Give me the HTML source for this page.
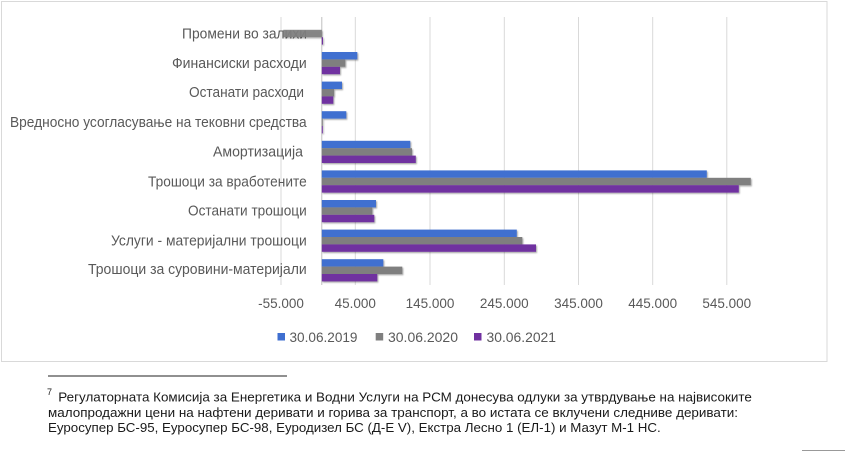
<!DOCTYPE html>
<html><head><meta charset="utf-8"><style>
html,body{margin:0;padding:0;background:#fff;}
svg{display:block;}
</style></head><body>
<svg width="845" height="452" viewBox="0 0 845 452" xmlns="http://www.w3.org/2000/svg" font-family="'Liberation Sans', 'Noto Sans CJK SC', sans-serif">
<defs>
<filter id="sh" x="-5%" y="-20%" width="110%" height="160%">
<feDropShadow dx="1" dy="1.2" stdDeviation="0.9" flood-color="#000" flood-opacity="0.35"/>
</filter>
</defs>
<rect x="0" y="0" width="845" height="452" fill="#fff"/>
<!-- chart border -->
<rect x="1.5" y="1.5" width="825.5" height="360" fill="#fff" stroke="#d9d9d9" stroke-width="1"/>
<!-- gridlines -->
<g stroke="#d9d9d9" stroke-width="1">
<line x1="281" y1="17" x2="281" y2="285"/>
<line x1="355.3" y1="17" x2="355.3" y2="285"/>
<line x1="430" y1="17" x2="430" y2="285"/>
<line x1="504.3" y1="17" x2="504.3" y2="285"/>
<line x1="578.5" y1="17" x2="578.5" y2="285"/>
<line x1="652.7" y1="17" x2="652.7" y2="285"/>
<line x1="726.8" y1="17" x2="726.8" y2="285"/>
</g>
<line x1="321.8" y1="17" x2="321.8" y2="285" stroke="#bfbfbf" stroke-width="1"/>
<!-- category labels -->
<g fill="#595959" font-size="14.5" text-anchor="start">
<text x="182" y="38.5" textLength="125" lengthAdjust="spacingAndGlyphs">Промени во залихи</text>
<text x="172" y="68" textLength="134.7" lengthAdjust="spacingAndGlyphs">Финансиски расходи</text>
<text x="189" y="97" textLength="115" lengthAdjust="spacingAndGlyphs">Останати расходи</text>
<text x="10" y="127" textLength="296.7" lengthAdjust="spacingAndGlyphs">Вредносно усогласување на тековни средства</text>
<text x="213" y="156.7" textLength="90" lengthAdjust="spacingAndGlyphs">Амортизација</text>
<text x="148" y="186.5" textLength="158.7" lengthAdjust="spacingAndGlyphs">Трошоци за вработените</text>
<text x="188" y="215.5" textLength="118.7" lengthAdjust="spacingAndGlyphs">Останати трошоци</text>
<text x="111" y="245.5" textLength="195.7" lengthAdjust="spacingAndGlyphs">Услуги - материјални трошоци</text>
<text x="88" y="274" textLength="218.7" lengthAdjust="spacingAndGlyphs">Трошоци за суровини-материјали</text>
</g>
<!-- bars -->
<g filter="url(#sh)">
<!-- Promeni c=33.5 -->
<rect x="283.3" y="29.8" width="38.5" height="7.4" fill="#7f7f7f" fill-opacity="0.92"/>
<rect x="321.8" y="37.2" width="1.2" height="7.4" fill="#7030a0"/>
<!-- Finansiski -->
<rect x="321.8" y="52" width="35.5" height="7.4" fill="#3f6fd0"/>
<rect x="321.8" y="59.4" width="23.5" height="7.4" fill="#7f7f7f"/>
<rect x="321.8" y="66.8" width="18.2" height="7.4" fill="#7030a0"/>
<!-- Ostanati rashodi -->
<rect x="321.8" y="81.6" width="20.2" height="7.4" fill="#3f6fd0"/>
<rect x="321.8" y="89" width="12.2" height="7.4" fill="#7f7f7f"/>
<rect x="321.8" y="96.4" width="11.5" height="7.4" fill="#7030a0"/>
<!-- Vrednosno -->
<rect x="321.8" y="111.2" width="24.5" height="7.4" fill="#3f6fd0"/>
<rect x="321.8" y="118.6" width="1" height="7.4" fill="#7f7f7f"/>
<rect x="321.8" y="126" width="1" height="7.4" fill="#7030a0"/>
<!-- Amortizacija -->
<rect x="321.8" y="140.8" width="88.5" height="7.4" fill="#3f6fd0"/>
<rect x="321.8" y="148.2" width="90.2" height="7.4" fill="#7f7f7f"/>
<rect x="321.8" y="155.6" width="94" height="7.4" fill="#7030a0"/>
<!-- Vraboteni -->
<rect x="321.8" y="170.4" width="385" height="7.4" fill="#3f6fd0"/>
<rect x="321.8" y="177.8" width="429" height="7.4" fill="#7f7f7f"/>
<rect x="321.8" y="185.2" width="417" height="7.4" fill="#7030a0"/>
<!-- Ostanati troshoci -->
<rect x="321.8" y="200" width="54.2" height="7.4" fill="#3f6fd0"/>
<rect x="321.8" y="207.4" width="50.5" height="7.4" fill="#7f7f7f"/>
<rect x="321.8" y="214.8" width="52.5" height="7.4" fill="#7030a0"/>
<!-- Uslugi -->
<rect x="321.8" y="229.6" width="195" height="7.4" fill="#3f6fd0"/>
<rect x="321.8" y="237" width="200.5" height="7.4" fill="#7f7f7f"/>
<rect x="321.8" y="244.4" width="214.2" height="7.4" fill="#7030a0"/>
<!-- Surovini -->
<rect x="321.8" y="259.2" width="61.5" height="7.4" fill="#3f6fd0"/>
<rect x="321.8" y="266.6" width="80.5" height="7.4" fill="#7f7f7f"/>
<rect x="321.8" y="274" width="55.5" height="7.4" fill="#7030a0"/>
</g>
<!-- axis tick labels -->
<g fill="#595959" font-size="13.5" text-anchor="middle">
<text x="281" y="308">-55.000</text>
<text x="355.3" y="308">45.000</text>
<text x="430" y="308">145.000</text>
<text x="504.3" y="308">245.000</text>
<text x="578.5" y="308">345.000</text>
<text x="652.7" y="308">445.000</text>
<text x="726.8" y="308">545.000</text>
</g>
<!-- legend -->
<rect x="277.5" y="333" width="7.5" height="7.5" fill="#3f6fd0"/>
<rect x="375.7" y="333" width="7.5" height="7.5" fill="#7f7f7f"/>
<rect x="474" y="333" width="7.5" height="7.5" fill="#7030a0"/>
<g fill="#595959" font-size="13.5">
<text x="289.5" y="342" textLength="68" lengthAdjust="spacingAndGlyphs">30.06.2019</text>
<text x="388" y="342" textLength="70" lengthAdjust="spacingAndGlyphs">30.06.2020</text>
<text x="486.5" y="342" textLength="69.5" lengthAdjust="spacingAndGlyphs">30.06.2021</text>
</g>
<!-- footnote -->
<line x1="48" y1="376" x2="287" y2="376" stroke="#222" stroke-width="1"/>
<g fill="#1a1a1a" font-size="13">
<text x="47" y="395" font-size="9">7</text>
<text x="58.3" y="401.5" textLength="693.5" lengthAdjust="spacingAndGlyphs">Регулаторната Комисија за Енергетика и Водни Услуги на РСМ донесува одлуки за утврдување на највисоките</text>
<text x="48" y="417" textLength="690" lengthAdjust="spacingAndGlyphs">малопродажни цени на нафтени деривати и горива за транспорт, а во истата се вклучени следниве деривати:</text>
<text x="48" y="432" textLength="612.7" lengthAdjust="spacingAndGlyphs">Еуросупер БС-95, Еуросупер БС-98, Еуродизел БС (Д-Е V), Екстра Лесно 1 (ЕЛ-1) и Мазут М-1 НС.</text>
</g>
<line x1="802" y1="450.5" x2="845" y2="450.5" stroke="#999" stroke-width="1"/>
</svg>
</body></html>
